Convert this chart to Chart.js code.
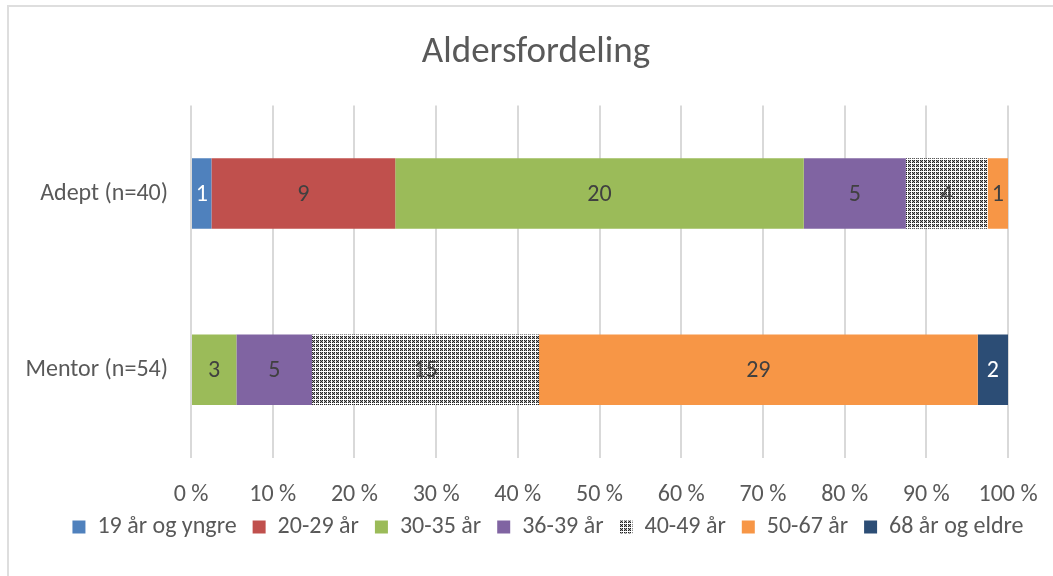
<!DOCTYPE html>
<html>
<head>
<meta charset="utf-8">
<script src="https://cdn.jsdelivr.net/npm/chart.js@4/dist/chart.umd.min.js"></script>
<style>
  html, body { margin: 0; padding: 0; background: #fff; overflow: hidden; }
  #frame { position: absolute; left: 7px; top: 5px; width: 1100px; height: 620px; border: 2px solid #dedede; box-sizing: border-box; }
  #chart { position: absolute; left: 0; top: 0; }
</style>
</head>
<body>
<div id="frame"></div>
<canvas id="chart" width="1053" height="576"></canvas>
<script>
// Categories (y axis) and the age groups (series)
const categories = ["Adept (n=40)", "Mentor (n=54)"];
const ageGroups = ["19 år og yngre", "20-29 år", "30-35 år", "36-39 år", "40-49 år", "50-67 år", "68 år og eldre"];

// Counts per age group
const adeptCounts = [1, 9, 20, 5, 4, 1, 0];
const mentorCounts = [0, 0, 3, 5, 15, 29, 2];

// Axis ticks (percent)
const xTicks = [0, 10, 20, 30, 40, 50, 60, 70, 80, 90, 100];

const FONT = "Carlito, Calibri, Lato, 'Open Sans', sans-serif";

// Checkerboard-ish pattern used by Excel for the 40-49 group
function makePattern() {
  const c = document.createElement("canvas");
  c.width = 4; c.height = 4;
  const g = c.getContext("2d");
  g.fillStyle = "#fff";
  g.fillRect(0, 0, 4, 4);
  for (let y = 0; y < 3; y++) {
    for (let x = 0; x < 3; x++) {
      g.fillStyle = (x + y) % 2 === 0 ? "#222" : "#a0a0a0";
      g.fillRect(x, y, 1, 1);
    }
  }
  return g.createPattern(c, "repeat");
}

const seriesColors = ["#4f81bd", "#c0504d", "#9bbb59", "#8064a2", makePattern(), "#f79646", "#2c4d75"];
const labelColors = ["#ffffff", "#404040", "#404040", "#404040", "#404040", "#404040", "#ffffff"];

const totals = [
  adeptCounts.reduce((a, b) => a + b, 0),
  mentorCounts.reduce((a, b) => a + b, 0)
];

const datasets = ageGroups.map((name, i) => {
  const counts = [adeptCounts[i], mentorCounts[i]];
  return {
    label: name,
    counts: counts,
    data: counts.map((v, k) => v / totals[k] * 100),
    backgroundColor: seriesColors[i],
    borderWidth: 0,
    barPercentage: 1,
    categoryPercentage: 0.4
  };
});

// Draws the count inside each segment
const segmentLabels = {
  id: "segmentLabels",
  afterDatasetsDraw(chart) {
    const ctx = chart.ctx;
    ctx.save();
    ctx.font = "24px " + FONT;
    ctx.textAlign = "center";
    ctx.textBaseline = "middle";
    chart.data.datasets.forEach((ds, i) => {
      const meta = chart.getDatasetMeta(i);
      meta.data.forEach((bar, k) => {
        const v = ds.counts[k];
        if (!v) return;
        const p = bar.getProps(["x", "y", "base"], true);
        ctx.fillStyle = labelColors[i];
        ctx.fillText(String(v), (p.x + p.base) / 2, p.y + 1);
      });
    });
    ctx.restore();
  }
};

// Excel centres title and legend on the whole frame (which runs past the right edge here)
// and sits the legend close under the axis labels
const frameCentre = {
  id: "frameCentre",
  afterLayout(chart) {
    chart.titleBlock.left += 32;
    chart.titleBlock.right += 32;
    chart.legend.left += 44;
    chart.legend.right += 44;
    chart.legend.top -= 11;
    chart.legend.bottom -= 11;
  }
};

new Chart(document.getElementById("chart"), {
  type: "bar",
  data: { labels: categories, datasets: datasets },
  options: {
    indexAxis: "y",
    responsive: false,
    animation: false,
    devicePixelRatio: 1,
    layout: { padding: { left: 0, right: 45, top: 0, bottom: 16 } },
    scales: {
      x: {
        stacked: true,
        min: 0,
        max: 100,
        afterBuildTicks(scale) { scale.ticks = xTicks.map(v => ({ value: v })); },
        afterFit(scale) {
          scale.height = 52;
          scale.paddingLeft = 0;
          scale.paddingRight = 0;
        },
        grid: { color: "#d9d9d9", lineWidth: 2, drawTicks: false },
        border: { display: false },
        ticks: {
          padding: 23,
          color: "#595959",
          font: { size: 24, family: FONT },
          callback: v => v + " %"
        }
      },
      y: {
        stacked: true,
        afterFit(scale) { scale.width = 191; },
        grid: { display: false, drawTicks: false },
        border: { display: false },
        ticks: {
          padding: 23,
          color: "#595959",
          font: { size: 24, family: FONT }
        }
      }
    },
    plugins: {
      title: {
        display: true,
        text: "Aldersfordeling",
        color: "#595959",
        font: { size: 37, family: FONT, weight: "normal" },
        padding: { top: 31, bottom: 30 }
      },
      legend: {
        position: "bottom",
        labels: {
          boxWidth: 13,
          boxHeight: 13,
          padding: 16,
          color: "#595959",
          font: { size: 24, family: FONT }
        }
      },
      tooltip: { enabled: false }
    }
  },
  plugins: [segmentLabels, frameCentre]
});
</script>
</body>
</html>
